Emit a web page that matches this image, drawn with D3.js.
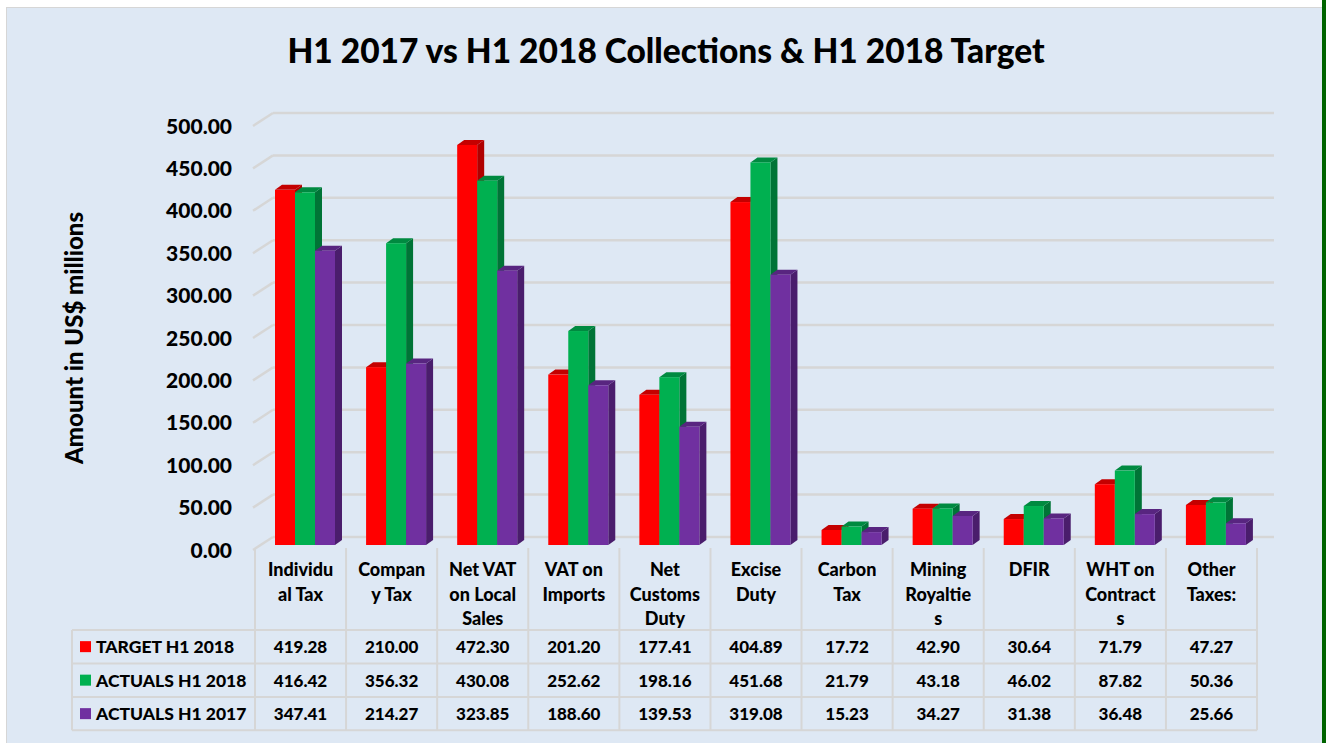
<!DOCTYPE html>
<html>
<head>
<meta charset="utf-8">
<script src="https://cdn.jsdelivr.net/npm/d3@7"></script>
<style>
  body { margin: 0; background: #ffffff; }
  svg text { font-family: Lato, "Open Sans", sans-serif; font-weight: 900; fill: #000; }
</style>
</head>
<body>
<div id="chart"></div>
<script>
// Section 1: Data
// ================
var categories = [
  ["Individu", "al Tax"],
  ["Compan", "y Tax"],
  ["Net VAT", "on Local", "Sales"],
  ["VAT on", "Imports"],
  ["Net", "Customs", "Duty"],
  ["Excise", "Duty"],
  ["Carbon", "Tax"],
  ["Mining", "Royaltie", "s"],
  ["DFIR"],
  ["WHT on", "Contract", "s"],
  ["Other", "Taxes:"]
];
var seriesNames = ["TARGET H1 2018", "ACTUALS H1 2018", "ACTUALS H1 2017"];
var target2018 = [419.28, 210.00, 472.30, 201.20, 177.41, 404.89, 17.72, 42.90, 30.64, 71.79, 47.27];
var actuals2018 = [416.42, 356.32, 430.08, 252.62, 198.16, 451.68, 21.79, 43.18, 46.02, 87.82, 50.36];
var actuals2017 = [347.41, 214.27, 323.85, 188.60, 139.53, 319.08, 15.23, 34.27, 31.38, 36.48, 25.66];
var yTicks = [0, 50, 100, 150, 200, 250, 300, 350, 400, 450, 500];

var seriesValues = [target2018, actuals2018, actuals2017];
// front, top, side colours for each series
var colors = [
  { front: "#ff0000", top: "#c40000", side: "#b00000" },
  { front: "#00b050", top: "#008a40", side: "#007436" },
  { front: "#7030a0", top: "#582580", side: "#4a1d6c" }
];

// Section 2: Canvas
// ==================
var width = 1326;
var height = 743;

var svg = d3
  .select("#chart")
  .append("svg")
  .attr("width", width)
  .attr("height", height);

// chart panel
svg.append("rect")
  .attr("x", 6.5)
  .attr("y", 7.5)
  .attr("width", 1316)
  .attr("height", 740)
  .attr("fill", "#dee8f4")
  .attr("stroke", "#d6d6d6")
  .attr("stroke-width", 1);

// green edge on the right
svg.append("rect")
  .attr("x", 1322)
  .attr("y", 0)
  .attr("width", 4)
  .attr("height", height)
  .attr("fill", "#006400");

// Section 3: Scales
// ==================
var colLeft = 255;
var colRight = 1257;
var x = d3.scaleBand()
  .domain(d3.range(categories.length))
  .range([colLeft, colRight])
  .padding(0);

var xSeries = d3.scaleBand()
  .domain(d3.range(seriesNames.length))
  .range([20, 80])
  .padding(0);

// y on the front edge (labels), on the back wall (grid) and for bar faces
var yFront = d3.scaleLinear().domain([0, 500]).range([550, 126]);
var yBack = d3.scaleLinear().domain([0, 500]).range([537, 113]);
var yBar = d3.scaleLinear().domain([0, 500]).range([545, 121.5]);

var wallLeft = 273;
var wallRight = 1274;
var frontLeft = 253;
var depthX = 7;
var depthY = -5;

// Section 4: Gridlines on the walls
// ==================================
var grid = svg.append("g").attr("class", "grid");

grid.selectAll("line.back")
  .data(yTicks)
  .enter()
  .append("line")
  .attr("class", "back")
  .attr("x1", wallLeft)
  .attr("x2", wallRight)
  .attr("y1", function(d) { return yBack(d); })
  .attr("y2", function(d) { return yBack(d); })
  .attr("stroke", "#d6d6d6")
  .attr("stroke-width", 2.5);

grid.selectAll("line.side")
  .data(yTicks)
  .enter()
  .append("line")
  .attr("class", "side")
  .attr("x1", frontLeft)
  .attr("x2", wallLeft)
  .attr("y1", function(d) { return yFront(d); })
  .attr("y2", function(d) { return yBack(d); })
  .attr("stroke", "#d6d6d6")
  .attr("stroke-width", 2.5);

// y tick labels
svg.append("g")
  .selectAll("text")
  .data(yTicks)
  .enter()
  .append("text")
  .attr("x", 232)
  .attr("y", function(d) { return yFront(d) - 1; })
  .attr("text-anchor", "end")
  .attr("dominant-baseline", "central")
  .style("font-size", "21px")
  .text(function(d) { return d3.format(".2f")(d); });

// y axis title
svg.append("text")
  .attr("transform", "translate(83, 338)rotate(-90)")
  .attr("text-anchor", "middle")
  .style("font-size", "24px")
  .text("Amount in US$ millions");

// chart title
svg.append("text")
  .attr("x", 666)
  .attr("y", 63)
  .attr("text-anchor", "middle")
  .style("font-size", "33.5px")
  .text("H1 2017 vs H1 2018 Collections & H1 2018 Target");

// Section 5: 3D bars
// ===================
var bars = [];
categories.forEach(function(c, i) {
  seriesValues.forEach(function(vals, s) {
    bars.push({ cat: i, series: s, value: vals[i] });
  });
});

var barW = xSeries.bandwidth();
var barG = svg.append("g").attr("class", "bars");

var bar = barG.selectAll("g.bar")
  .data(bars)
  .enter()
  .append("g")
  .attr("class", "bar");

// side face
bar.append("polygon")
  .attr("points", function(d) {
    var x0 = x(d.cat) + xSeries(d.series) + barW;
    var yt = yBar(d.value);
    var yb = yBar(0);
    return [
      [x0, yt], [x0 + depthX, yt + depthY],
      [x0 + depthX, yb + depthY], [x0, yb]
    ].join(" ");
  })
  .attr("fill", function(d) { return colors[d.series].side; });

// top face
bar.append("polygon")
  .attr("points", function(d) {
    var x0 = x(d.cat) + xSeries(d.series);
    var yt = yBar(d.value);
    return [
      [x0, yt], [x0 + barW, yt],
      [x0 + barW + depthX, yt + depthY], [x0 + depthX, yt + depthY]
    ].join(" ");
  })
  .attr("fill", function(d) { return colors[d.series].top; });

// front face
bar.append("rect")
  .attr("x", function(d) { return x(d.cat) + xSeries(d.series); })
  .attr("y", function(d) { return yBar(d.value); })
  .attr("width", barW)
  .attr("height", function(d) { return yBar(0) - yBar(d.value); })
  .attr("fill", function(d) { return colors[d.series].front; });

// Section 6: Data table
// ======================
var headTop = 548;
var rowTops = [630, 663.5, 697];
var rowH = 33.3;
var tableLeft = 72;
var lineColor = "#d6d6d6";
var table = svg.append("g").attr("class", "table");

// vertical lines between category columns
var colEdges = d3.range(categories.length + 1).map(function(i) {
  return i < categories.length ? x(i) : colRight;
});
table.selectAll("line.v")
  .data(colEdges)
  .enter()
  .append("line")
  .attr("class", "v")
  .attr("x1", function(d) { return d; })
  .attr("x2", function(d) { return d; })
  .attr("y1", headTop)
  .attr("y2", rowTops[2] + rowH)
  .attr("stroke", lineColor)
  .attr("stroke-width", 2);

table.append("line")
  .attr("x1", tableLeft)
  .attr("x2", tableLeft)
  .attr("y1", rowTops[0])
  .attr("y2", rowTops[2] + rowH)
  .attr("stroke", lineColor)
  .attr("stroke-width", 2);

var hLines = rowTops.concat([rowTops[2] + rowH]);
table.selectAll("line.h")
  .data(hLines)
  .enter()
  .append("line")
  .attr("class", "h")
  .attr("x1", tableLeft)
  .attr("x2", colRight)
  .attr("y1", function(d) { return d; })
  .attr("y2", function(d) { return d; })
  .attr("stroke", lineColor)
  .attr("stroke-width", 2);

// category labels
var catText = table.selectAll("text.cat")
  .data(categories)
  .enter()
  .append("text")
  .attr("class", "cat")
  .attr("text-anchor", "middle")
  .style("font-size", "18px");

catText.selectAll("tspan")
  .data(function(d, i) {
    return d.map(function(line, k) { return { line: line, k: k, i: i }; });
  })
  .enter()
  .append("tspan")
  .attr("x", function(d) { return x(d.i) + x.bandwidth() / 2; })
  .attr("y", function(d) { return 576 + d.k * 24.5; })
  .text(function(d) { return d.line; });

// legend keys and names
var rows = table.selectAll("g.row")
  .data(seriesValues)
  .enter()
  .append("g")
  .attr("class", "row");

rows.append("rect")
  .attr("x", 80)
  .attr("y", function(d, s) { return rowTops[s] + rowH / 2 - 5.5; })
  .attr("width", 11)
  .attr("height", 11)
  .attr("fill", function(d, s) { return colors[s].front; });

rows.append("text")
  .attr("x", 96)
  .attr("y", function(d, s) { return rowTops[s] + rowH / 2; })
  .attr("dominant-baseline", "central")
  .style("font-size", "17.5px")
  .text(function(d, s) { return seriesNames[s]; });

rows.selectAll("text.val")
  .data(function(d, s) {
    return d.map(function(v, i) { return { v: v, i: i, s: s }; });
  })
  .enter()
  .append("text")
  .attr("class", "val")
  .attr("x", function(d) { return x(d.i) + x.bandwidth() / 2; })
  .attr("y", function(d) { return rowTops[d.s] + rowH / 2; })
  .attr("text-anchor", "middle")
  .attr("dominant-baseline", "central")
  .style("font-size", "17px")
  .text(function(d) { return d3.format(".2f")(d.v); });
</script>
</body>
</html>
